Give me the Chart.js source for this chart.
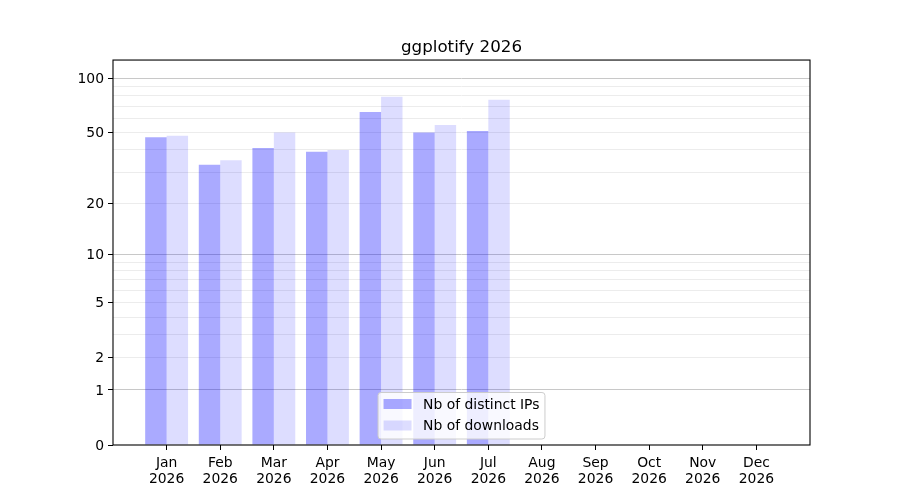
<!DOCTYPE html>
<html><head><meta charset="utf-8">
<script src="https://cdn.jsdelivr.net/npm/chart.js@4.4.1/dist/chart.umd.min.js"></script>
<style>html,body{margin:0;padding:0;background:#fff}#wrap{width:900px;height:500px}</style>
</head><body><div id="wrap"><canvas id="c" width="900" height="500"></canvas></div>
<script>
// ---- data ----
const months = ['Jan','Feb','Mar','Apr','May','Jun','Jul','Aug','Sep','Oct','Nov','Dec'];
const yearLabel = '2026';
const distinctIPs = [47, 33, 41, 39, 65, 50, 51];
const downloads = [48, 35, 50, 40, 79, 55, 76];
const seriesNames = ['Nb of distinct IPs', 'Nb of downloads'];
const titleText = 'ggplotify 2026';
const yTickLabels = [0, 1, 2, 5, 10, 20, 50, 100];
const yMinorValues = [3, 4, 6, 7, 8, 9, 30, 40, 60, 70, 80, 90];
const yMajorGrid = [1, 10, 100];

// ---- log(1+x) scale ----
class Log1pScale extends Chart.LinearScale {
  static id = 'log1p';
  buildTicks() {
    const vals = [...new Set([...yTickLabels, ...yMinorValues])].sort((a, b) => a - b);
    return vals.map(v => ({ value: v }));
  }
  configure() {
    super.configure();
    this._startValue = Math.log10(1 + this.min);
    this._valueRange = Math.log10(1 + this.max) - this._startValue;
  }
  getPixelForValue(value) {
    if (value === undefined || value === null || isNaN(value)) return NaN;
    return this.getPixelForDecimal((Math.log10(1 + value) - this._startValue) / this._valueRange);
  }
  getValueForPixel(pixel) {
    return Math.pow(10, this._startValue + this.getDecimalForPixel(pixel) * this._valueRange) - 1;
  }
}
Chart.register(Log1pScale);

const FONT = 'DejaVu Sans';
Chart.defaults.font.family = FONT;
Chart.defaults.font.size = 13.9;
Chart.defaults.color = '#000';

const colors = ['rgba(0,0,255,0.333)', 'rgba(0,0,255,0.133)'];
const xLabels = ['', ...months.map(m => [m, yearLabel]), ''];

const boxPlugin = {
  id: 'box',
  afterDraw(chart) {
    const { ctx, chartArea: a } = chart;
    ctx.save();
    ctx.strokeStyle = '#000';
    ctx.lineWidth = 1.1;
    ctx.strokeRect(a.left, a.top, a.right - a.left, a.bottom - a.top);
    // legend
    ctx.font = '13.9px "' + FONT + '"';
    const tw = Math.max(...seriesNames.map(s => ctx.measureText(s).width));
    const patchW = 28, gap = 11.5, pad = 5.5, rowH = 21.5;
    const w = pad + patchW + gap + tw + pad;
    const h = 46.5;
    const cx = (a.left + a.right) / 2;
    const x0 = cx - w / 2, y0 = a.bottom - 6 - h;
    ctx.beginPath();
    ctx.roundRect(x0, y0, w, h, 3);
    ctx.fillStyle = 'rgba(255,255,255,0.8)';
    ctx.fill();
    ctx.strokeStyle = '#cccccc';
    ctx.lineWidth = 1;
    ctx.stroke();
    ctx.textBaseline = 'middle';
    ctx.textAlign = 'left';
    seriesNames.forEach((s, i) => {
      const cy = y0 + 11.5 + i * rowH;
      ctx.fillStyle = colors[i];
      ctx.fillRect(x0 + pad, cy - 5, patchW, 10);
      ctx.fillStyle = '#000';
      ctx.fillText(s, x0 + pad + patchW + gap, cy + 1);
    });
    ctx.restore();
  }
};

new Chart(document.getElementById('c'), {
  type: 'bar',
  data: {
    labels: xLabels,
    datasets: [
      { label: seriesNames[0], data: [null, ...distinctIPs], backgroundColor: colors[0], borderWidth: 0 },
      { label: seriesNames[1], data: [null, ...downloads], backgroundColor: colors[1], borderWidth: 0 }
    ]
  },
  options: {
    responsive: false,
    animation: false,
    devicePixelRatio: 1,
    layout: { padding: { left: 23, right: 0, top: 0, bottom: 0 } },
    datasets: { bar: { categoryPercentage: 0.8, barPercentage: 1.0 } },
    plugins: {
      legend: { display: false },
      tooltip: { enabled: false },
      title: {
        display: true, text: titleText, color: '#000',
        font: { family: FONT, size: 16.7, weight: 'normal' },
        padding: { top: 38, bottom: 2 }
      }
    },
    scales: {
      x: {
        type: 'category',
        offset: false,
        border: { display: false },
        grid: {
          display: true, drawOnChartArea: false, offset: false, tickLength: 5,
          tickColor: c => (c.index === 0 || c.index === xLabels.length - 1) ? 'rgba(0,0,0,0)' : '#000'
        },
        ticks: { autoSkip: false, maxRotation: 0, padding: 5, font: { size: 13.9, lineHeight: 1.15 } },
        afterFit: s => { s.height = 55; }
      },
      y: {
        type: 'log1p',
        min: 0, max: 126,
        border: { display: false },
        grid: {
          tickLength: 5,
          lineWidth: 1,
          color: c => {
            const v = c.tick.value;
            if (v === 0) return 'rgba(0,0,0,0)';
            return yMajorGrid.includes(v) ? '#c8c8c8' : '#ececec';
          },
          tickColor: c => yTickLabels.includes(c.tick.value) ? '#000' : 'rgba(0,0,0,0)'
        },
        ticks: {
          autoSkip: false, padding: 4, labelOffset: 1,
          callback: v => yTickLabels.includes(v) ? String(v) : ''
        },
        afterFit: s => { s.width = 90; }
      },
      yRightSpace: {
        type: 'linear',
        position: 'right',
        display: true,
        border: { display: false },
        grid: { display: false },
        ticks: { display: false },
        afterFit: s => { s.width = 90; }
      }
    }
  },
  plugins: [boxPlugin]
});
</script>
</body></html>
